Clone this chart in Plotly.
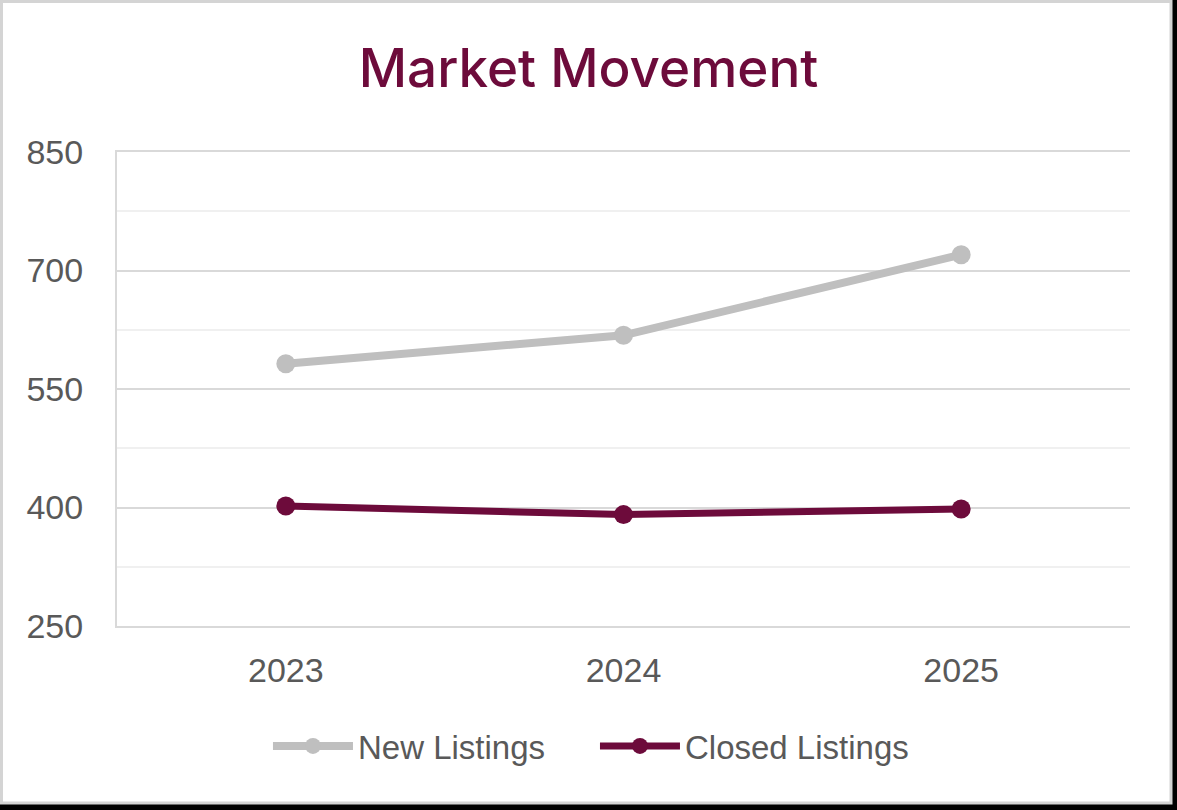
import plotly.graph_objects as go

years = ["2023", "2024", "2025"]
new_listings = [582, 618, 720]
closed_listings = [402, 391, 398]
y_ticks = [250, 400, 550, 700, 850]

W, H = 1177, 810
L, R, T, B = 117, 47, 152, 184
PW, PH = W - L - R, H - T - B

def px_x(p):
    return (p - L) / PW

def px_y(p):
    return (H - B - p) / PH

MAROON = "#6d0b3b"
GREY = "#bfbfbf"

fig = go.Figure()
fig.add_trace(go.Scatter(
    x=years, y=new_listings, name="New Listings", mode="lines+markers",
    line=dict(color=GREY, width=8), marker=dict(color=GREY, size=19),
))
fig.add_trace(go.Scatter(
    x=years, y=closed_listings, name="Closed Listings", mode="lines+markers",
    line=dict(color=MAROON, width=7), marker=dict(color=MAROON, size=19),
))

# card frame
fig.add_shape(type="rect", xref="paper", yref="paper", layer="below",
              x0=px_x(1.5), x1=px_x(1171), y0=px_y(1.5), y1=px_y(803),
              fillcolor="white", line=dict(color="#d4d4d4", width=3))

fig.update_layout(
    width=W, height=H,
    margin=dict(l=L, r=R, t=T, b=B),
    paper_bgcolor="black", plot_bgcolor="white",
    title=dict(text="Market Movement", x=0.5, xanchor="center", y=1 - 68 / H, yanchor="middle",
               font=dict(family="Inter", size=53, color=MAROON, weight=500)),
    showlegend=True,
    legend=dict(orientation="h", xref="container", yref="container", x=0.5055, xanchor="center",
                y=1 - 746 / H, yanchor="middle",
                font=dict(family="Liberation Sans", size=33, color="#595959"),
                itemwidth=80, entrywidth=232, entrywidthmode="pixels",
                bgcolor="rgba(0,0,0,0)"),
    xaxis=dict(type="category", range=[-0.5, 2.5], showgrid=False, zeroline=False,
               showline=True, mirror=True, linecolor="#d9d9d9", linewidth=2,
               ticks="", ticklabelstandoff=13,
               tickfont=dict(family="Liberation Sans", size=34, color="#595959")),
    yaxis=dict(range=[250, 850], tickvals=y_ticks, showgrid=True, gridcolor="#d9d9d9", gridwidth=2,
               zeroline=False, showline=True, linecolor="#d9d9d9", linewidth=2,
               ticks="", ticklabelstandoff=25,
               tickfont=dict(family="Liberation Sans", size=34, color="#595959"),
               minor=dict(tick0=325, dtick=150, showgrid=True, gridcolor="#f0f0f0", gridwidth=1.5)),
)

fig.write_html("out.html", config={"displayModeBar": False},
               post_script="document.body.style.margin='0';")
